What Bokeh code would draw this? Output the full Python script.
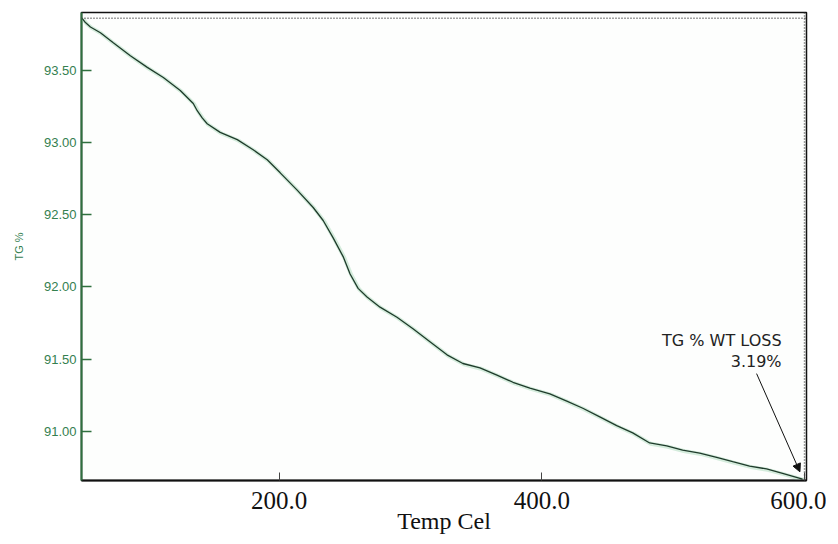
from bokeh.plotting import figure
from bokeh.models import Span, Label, Arrow, NormalHead, FixedTicker, NumeralTickFormatter
from bokeh.embed import file_html
from bokeh.resources import INLINE

# ---- data ----
temp_c = [50.0, 52.5, 56.3, 63.9, 73.7, 86.7, 99.6, 111.8, 124.7, 134.6, 137.6, 141.4,
          145.2, 155.1, 168.1, 180.2, 190.9, 200.8, 213.7, 225.9, 233.5, 241.1, 248.7,
          254.0, 260.1, 266.9, 276.8, 289.7, 301.9, 314.8, 327.8, 339.9, 352.9, 365.8,
          378.0, 390.9, 406.1, 419.0, 431.2, 444.1, 457.0, 469.2, 482.1, 495.1, 507.2,
          520.2, 533.1, 545.3, 558.2, 571.1, 583.3, 598.5]
tg_pct = [93.86, 93.83, 93.80, 93.76, 93.69, 93.60, 93.52, 93.45, 93.36, 93.27, 93.22,
          93.17, 93.13, 93.07, 93.02, 92.95, 92.88, 92.79, 92.67, 92.55, 92.46, 92.34,
          92.21, 92.09, 91.99, 91.93, 91.86, 91.79, 91.71, 91.62, 91.53, 91.47, 91.44,
          91.39, 91.34, 91.30, 91.26, 91.21, 91.16, 91.10, 91.04, 90.99, 90.92, 90.90,
          90.87, 90.85, 90.82, 90.79, 90.76, 90.74, 90.71, 90.67]
x_ticks = [200, 400, 600]
y_ticks = [91.0, 91.5, 92.0, 92.5, 93.0, 93.5]
annot_lines = ["TG % WT LOSS", "3.19%"]
start_value = 93.86
end_temp = 600.0

GREEN_TXT = "#34804f"
GREEN_AX = "#2f6f3f"

p = figure(frame_width=725, frame_height=468,
           x_range=(49.5, 601.5), y_range=(90.66, 93.90),
           output_backend="svg", toolbar_location=None,
           min_border_left=81, min_border_right=20, min_border_top=12, min_border_bottom=10,
           background_fill_color="#fdfefd", border_fill_color="#ffffff")

p.xgrid.visible = False
p.ygrid.visible = False
p.outline_line_color = "#111111"
p.outline_line_width = 1.5

# x axis
xa = p.xaxis[0]
xa.ticker = FixedTicker(ticks=x_ticks)
xa.formatter = NumeralTickFormatter(format="0.0")
xa.axis_line_color = "#111111"
xa.axis_line_width = 2
xa.major_tick_in = 8
xa.major_tick_out = 0
xa.major_tick_line_color = "#444444"
xa.minor_tick_line_color = None
xa.major_label_text_font = "Liberation Serif"
xa.major_label_text_font_size = "25px"
xa.major_label_text_color = "#111111"
xa.major_label_standoff = 11
xa.axis_label = "Temp Cel"
xa.axis_label_text_font = "Liberation Serif"
xa.axis_label_text_font_size = "24px"
xa.axis_label_text_font_style = "normal"
xa.axis_label_text_color = "#111111"
xa.axis_label_standoff = -4

# y axis
ya = p.yaxis[0]
ya.ticker = FixedTicker(ticks=y_ticks)
ya.formatter = NumeralTickFormatter(format="0.00")
ya.axis_line_color = GREEN_AX
ya.axis_line_width = 2
ya.major_tick_in = 10
ya.major_tick_out = 0
ya.major_tick_line_color = GREEN_AX
ya.major_tick_line_width = 1.5
ya.minor_tick_line_color = None
ya.major_label_text_font = "Liberation Sans"
ya.major_label_text_font_size = "13px"
ya.major_label_text_color = GREEN_TXT
ya.major_label_standoff = 5
ya.axis_label = "TG %"
ya.axis_label_text_font = "Liberation Sans"
ya.axis_label_text_font_size = "11px"
ya.axis_label_text_font_style = "normal"
ya.axis_label_text_color = GREEN_TXT
ya.axis_label_standoff = 16

# dotted reference lines
p.add_layout(Span(location=start_value, dimension="width", line_color="#444444",
                  line_dash="1 2", line_width=1.5))
p.add_layout(Span(location=end_temp, dimension="height", line_color="#444444",
                  line_dash="1 2", line_width=1.5))

# curve with light halo
p.line([t + 0.8 for t in temp_c], [v - 0.006 for v in tg_pct], line_color="#d4ecdc", line_width=4)
p.line(temp_c, tg_pct, line_color="#1f3b2b", line_width=1.3)

# annotation
p.add_layout(Label(x=582.5, y=91.63, text=annot_lines[0], text_align="right",
                   text_baseline="alphabetic", text_font="DejaVu Sans",
                   text_font_size="16px", text_color="#222222"))
p.add_layout(Label(x=582.5, y=91.485, text=annot_lines[1], text_align="right",
                   text_baseline="alphabetic", text_font="DejaVu Sans",
                   text_font_size="16px", text_color="#222222"))
p.add_layout(Arrow(end=NormalHead(size=8, fill_color="#111111", line_color="#111111"),
                   x_start=563.5, y_start=91.40, x_end=596.5, y_end=90.72,
                   line_color="#111111", line_width=1))

open("out.html", "w").write(file_html(p, INLINE))
